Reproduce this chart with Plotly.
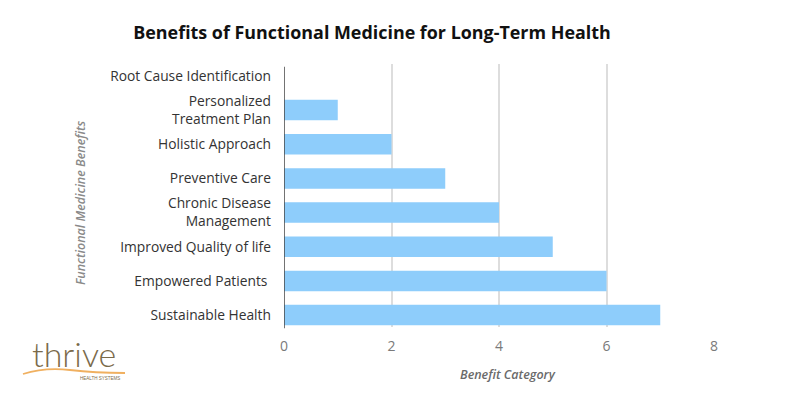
import plotly.graph_objects as go

categories = ["Root Cause Identification", "Personalized<br>Treatment Plan", "Holistic Approach",
              "Preventive Care", "Chronic Disease<br>Management", "Improved Quality of life",
              "Empowered Patients ", "Sustainable Health"]
values = [0, 1, 2, 3, 4, 5, 6, 7]
x_ticks = [0, 2, 4, 6, 8]

# page is rendered with an 8px body margin, so compensate
OFF = 8
W, H = 800 - OFF, 400 - OFF
L, R, T, B = 284 - OFF, 86, 64 - OFF, 73
PW, PH = W - L - R, H - T - B


def px(x):
    return (x - OFF - L) / PW


def py(y):
    return (H - B - (y - OFF)) / PH


fig = go.Figure(go.Bar(
    x=values, y=categories, orientation="h",
    marker=dict(color="#8ecdfb", line=dict(width=0)),
    width=0.6,
))

fig.update_layout(
    width=W, height=H,
    paper_bgcolor="white", plot_bgcolor="white",
    margin=dict(l=L, r=R, t=T, b=B, autoexpand=False),
    showlegend=False,
    title=dict(text="<b>Benefits of Functional Medicine for Long-Term Health</b>",
               x=(372 - OFF) / W, xanchor="center", y=1 - (33 - OFF) / H, yanchor="middle",
               font=dict(family="Open Sans", size=17.9, color="#111111")),
    font=dict(family="Open Sans"),
)
fig.update_xaxes(range=[0, 8.0], tickvals=x_ticks, showgrid=True, gridcolor="#dddddd", gridwidth=1.5,
                 zeroline=False, showline=False, ticks="", automargin=False,
                 ticklabelstandoff=9,
                 tickfont=dict(family="Open Sans", size=14, color="#7a7a7a"))
fig.update_yaxes(range=[7.35, -0.35], showgrid=False, zeroline=False, automargin=False,
                 ticks="", ticklabelstandoff=12,
                 tickfont=dict(family="Open Sans", size=13.8, color="#333333"))
fig.add_shape(type="line", xref="x", yref="paper", x0=0, x1=0, y0=-0.005, y1=0.99,
              line=dict(color="#444444", width=1.5))

fig.add_annotation(xref="paper", yref="paper", x=px(508), y=py(374), xanchor="center", yanchor="middle",
                   text="<i>Benefit Category</i>", showarrow=False,
                   font=dict(family="Open Sans", size=12.5, weight=600, color="#6a6a6a"))
fig.add_annotation(xref="paper", yref="paper", x=px(80), y=py(203), xanchor="center", yanchor="middle",
                   text="<i>Functional Medicine Benefits</i>", textangle=-90, showarrow=False,
                   font=dict(family="Open Sans", size=12.5, weight=600, color="#8a8a8a"))

# logo
fig.add_annotation(xref="paper", yref="paper", x=px(74), y=py(353), xanchor="center", yanchor="middle",
                   text="thrive", showarrow=False,
                   font=dict(family="Lato", size=34, weight=300, color="#7a6a4a"))
fig.add_shape(type="path", xref="paper", yref="paper",
              path=f"M {px(23)} {py(374)} Q {px(45)} {py(367)} {px(70)} {py(370)} T {px(125)} {py(373)}",
              line=dict(color="#f0b060", width=1.8))
fig.add_annotation(xref="paper", yref="paper", x=px(122), y=py(378.5), xanchor="right", yanchor="middle",
                   text="HEALTH SYSTEMS", showarrow=False,
                   font=dict(family="Liberation Sans", size=4.5, color="#7a6a4a"))

fig.write_html("out.html")
